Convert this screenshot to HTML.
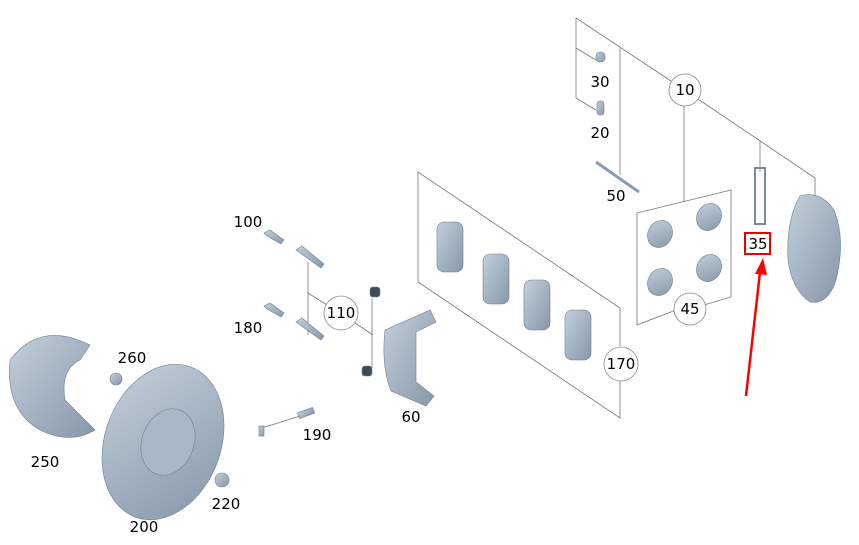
<!DOCTYPE html>
<html><head><style>
html,body{margin:0;padding:0;background:#fff;}
svg{display:block;font-family:"DejaVu Sans","Liberation Sans",sans-serif;}
</style></head><body>
<svg width="859" height="545" viewBox="0 0 859 545" xmlns="http://www.w3.org/2000/svg">
<defs>
<linearGradient id="g" x1="0" y1="0" x2="1" y2="1"><stop offset="0" stop-color="#c3d0dc"/><stop offset="1" stop-color="#8697a8"/></linearGradient>
</defs>
<g stroke="#777" stroke-width="0.8" fill="none">
<polyline points="576,18 576,98 596,110"/>
<line x1="576" y1="48" x2="596" y2="60"/>
<line x1="576" y1="18" x2="671" y2="81"/>
<line x1="620" y1="48" x2="620" y2="175"/>
<polyline points="698,99 815,178 815,196"/>
<line x1="760" y1="141" x2="760" y2="172"/>
<line x1="684" y1="106" x2="684" y2="202"/>
<polygon points="637,213 731,190 731,297 704,305 676,310 637,325"/>
<polyline points="620,346 620,308 418,172 418,282 620,418 620,380"/>
<polyline points="308,262 308,335"/>
<line x1="308" y1="293" x2="327" y2="305"/>
<line x1="355" y1="323" x2="373" y2="335"/>
<line x1="372" y1="298" x2="372" y2="368"/>
<line x1="262" y1="428" x2="300" y2="416"/>
</g>
<g stroke="#888" fill="#fff" stroke-width="0.8">
<circle cx="685" cy="90" r="16"/>
<circle cx="690" cy="309" r="16"/>
<circle cx="621" cy="364" r="17"/>
<circle cx="341" cy="313" r="17"/>
</g>
<g fill="url(#g)" stroke="#6f7f90" stroke-width="0.6">
<rect x="596" y="52" width="9" height="10" rx="4"/>
<rect x="597" y="101" width="7" height="14" rx="3"/>
<line x1="596" y1="162" x2="639" y2="192" stroke="#8c9cad" stroke-width="3"/>
<ellipse cx="660" cy="234" rx="12" ry="14" transform="rotate(30 660 234)"/>
<ellipse cx="709" cy="217" rx="12" ry="14" transform="rotate(30 709 217)"/>
<ellipse cx="660" cy="282" rx="12" ry="14" transform="rotate(30 660 282)"/>
<ellipse cx="709" cy="268" rx="12" ry="14" transform="rotate(30 709 268)"/>
<rect x="755" y="168" width="10" height="56" fill="none" stroke="#7b8b9c" stroke-width="2"/>
<path d="M800,196 Q820,190 834,210 Q846,240 836,280 Q828,305 810,302 Q792,290 788,260 Q786,220 800,196Z"/>
<rect x="437" y="222" width="26" height="50" rx="7"/>
<rect x="483" y="254" width="26" height="50" rx="7"/>
<rect x="524" y="280" width="26" height="50" rx="7"/>
<rect x="565" y="310" width="26" height="50" rx="7"/>
<path d="M264,233 l6,-3 l14,10 l-3,4 l-14,-8z"/>
<path d="M296,250 l6,-4 l22,18 l-3,4 z"/>
<path d="M264,306 l6,-3 l14,10 l-3,4 l-14,-8z"/>
<path d="M296,322 l6,-4 l22,18 l-3,4 z"/>
<rect x="370" y="287" width="10" height="10" rx="3" fill="#3f4a55"/>
<rect x="362" y="366" width="10" height="10" rx="3" fill="#3f4a55"/>
<path d="M385,330 l45,-20 l6,12 l-20,10 l0,50 l18,14 l-8,10 l-35,-15 q-10,-25 -6,-61z"/>
<rect x="298" y="410" width="16" height="6" transform="rotate(-20 306 413)"/>
<rect x="259" y="426" width="5" height="10"/>
<circle cx="116" cy="379" r="6"/>
<circle cx="222" cy="480" r="7"/>
<path d="M10,360 Q40,320 90,345 L80,360 Q60,370 65,400 L95,430 Q70,445 40,430 Q5,410 10,360Z"/>
<ellipse cx="163" cy="442" rx="58" ry="80" transform="rotate(20 163 442)"/>
<ellipse cx="168" cy="442" rx="26" ry="34" transform="rotate(20 168 442)" fill="#a9b8c6"/>
</g>
<g font-size="15" fill="#000" text-anchor="middle">
<text x="685" y="95">10</text>
<text x="600" y="87">30</text>
<text x="600" y="138">20</text>
<text x="616" y="201">50</text>
<text x="690" y="314">45</text>
<text x="758" y="249">35</text>
<text x="621" y="369">170</text>
<text x="341" y="318">110</text>
<text x="248" y="227">100</text>
<text x="248" y="333">180</text>
<text x="411" y="422">60</text>
<text x="317" y="440">190</text>
<text x="132" y="363">260</text>
<text x="45" y="467">250</text>
<text x="226" y="509">220</text>
<text x="144" y="532">200</text>
</g>
<rect x="745" y="233" width="25" height="21" fill="none" stroke="#e00" stroke-width="2"/>
<line x1="746" y1="396" x2="760" y2="272" stroke="#f00" stroke-width="2.5"/>
<polygon points="763,258 755,274 767,275" fill="#f00"/>
</svg>
</body></html>
